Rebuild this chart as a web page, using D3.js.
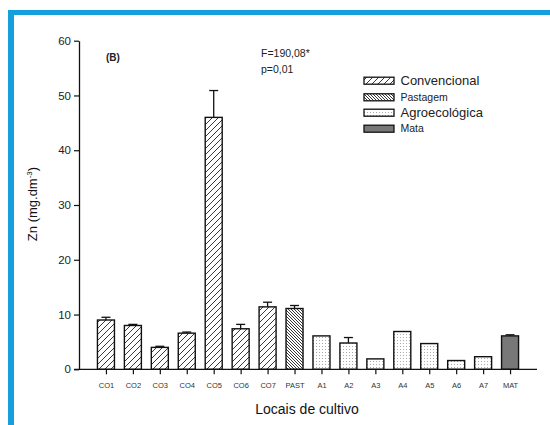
<!DOCTYPE html>
<html><head><meta charset="utf-8">
<script src="https://cdn.jsdelivr.net/npm/d3@7"></script>
<style>body{margin:0;background:#fff}svg{display:block}</style>
</head><body>
<svg id="c" width="550" height="425"></svg>
<script>
const categories = ["CO1","CO2","CO3","CO4","CO5","CO6","CO7","PAST","A1","A2","A3","A4","A5","A6","A7","MAT"];
const groups = ["conv","conv","conv","conv","conv","conv","conv","past","agro","agro","agro","agro","agro","agro","agro","mata"];
const values = [9.0,8.0,4.0,6.6,46.0,7.4,11.4,11.1,6.1,4.8,1.9,6.9,4.7,1.6,2.3,6.1];
const errors = [0.5,0.2,0.2,0.2,4.9,0.8,0.85,0.55,0,1.0,0,0,0,0,0,0.2];
const yTicks = [0,10,20,30,40,50,60];
const legendLabels = ["Convencional","Pastagem","Agroecológica","Mata"];
const legendKeys = ["conv","past","agro","mata"];

const svg = d3.select("#c");
const defs = svg.append("defs");
// patterns
const p1 = defs.append("pattern").attr("id","conv").attr("patternUnits","userSpaceOnUse").attr("width",6).attr("height",6);
p1.append("rect").attr("width",6).attr("height",6).attr("fill","#fff");
p1.append("path").attr("d","M0,6L6,0M-1.5,1.5L1.5,-1.5M4.5,7.5L7.5,4.5").attr("stroke","#222").attr("stroke-width",0.9);
const p2 = defs.append("pattern").attr("id","past").attr("patternUnits","userSpaceOnUse").attr("width",3).attr("height",3);
p2.append("rect").attr("width",3).attr("height",3).attr("fill","#fff");
p2.append("path").attr("d","M0,0L3,3M-1,2L1,4M2,-1L4,1").attr("stroke","#222").attr("stroke-width",0.9);
const p3 = defs.append("pattern").attr("id","agro").attr("patternUnits","userSpaceOnUse").attr("width",3).attr("height",3);
p3.append("rect").attr("width",3).attr("height",3).attr("fill","#fff");
p3.append("rect").attr("x",1).attr("y",1).attr("width",1).attr("height",1).attr("fill","#aaa");
const fills = {conv:"url(#conv)",past:"url(#past)",agro:"url(#agro)",mata:"#787878"};

// blue frame
svg.append("rect").attr("x",8).attr("y",10).attr("width",542).attr("height",5).attr("fill","#159fdb");
svg.append("rect").attr("x",8).attr("y",10).attr("width",6).attr("height",415).attr("fill","#159fdb");

const x0 = 79, x1 = 537, yTop = 40.7, yBot = 369.3;
const x = d3.scalePoint().domain(categories).range([x0,x1]).padding(1);
const y = d3.scaleLinear().domain([0,60]).range([yBot,yTop]);
const bw = 17;

const bars = svg.append("g");
categories.forEach((c,i)=>{
  const cx = x(c);
  if (errors[i] > 0) {
    bars.append("line").attr("x1",cx).attr("x2",cx).attr("y1",y(values[i])).attr("y2",y(values[i]+errors[i])).attr("stroke","#111").attr("stroke-width",1.3);
    bars.append("line").attr("x1",cx-4.5).attr("x2",cx+4.5).attr("y1",y(values[i]+errors[i])).attr("y2",y(values[i]+errors[i])).attr("stroke","#111").attr("stroke-width",1.3);
  }
  bars.append("rect").attr("x",cx-bw/2).attr("y",y(values[i])).attr("width",bw).attr("height",y(0)-y(values[i]))
    .attr("fill",fills[groups[i]]).attr("stroke","#111").attr("stroke-width",1.4);
});

// axes
const yAxis = svg.append("g").attr("transform",`translate(${x0},0)`)
  .call(d3.axisLeft(y).tickValues(yTicks).tickSize(5).tickPadding(3).tickSizeOuter(0));
yAxis.select(".domain").attr("stroke","#111").attr("stroke-width",1.3);
yAxis.selectAll(".tick line").attr("stroke","#111").attr("stroke-width",1.2);
yAxis.selectAll("text").attr("font-family","Liberation Sans, Arial, sans-serif").attr("font-size",11.5).attr("fill","#222");

const xAxis = svg.append("g").attr("transform",`translate(0,${yBot})`)
  .call(d3.axisBottom(x).tickSize(5).tickPadding(8).tickSizeOuter(0));
xAxis.select(".domain").attr("d",`M${x0-5},0H${x1}`).attr("stroke","#111").attr("stroke-width",1.3);
xAxis.selectAll(".tick line").attr("stroke","#111").attr("stroke-width",1.2);
xAxis.selectAll("text").attr("font-family","Liberation Sans, Arial, sans-serif").attr("font-size",7.5).attr("fill","#333");

// titles
svg.append("text").attr("x",307).attr("y",414).attr("text-anchor","middle")
  .attr("font-family","Liberation Sans, Arial, sans-serif").attr("font-size",14).attr("fill","#111").text("Locais de cultivo");
const yt = svg.append("text").attr("transform","translate(37,204) rotate(-90)").attr("text-anchor","middle")
  .attr("font-family","Liberation Sans, Arial, sans-serif").attr("font-size",13).attr("fill","#111");
yt.append("tspan").text("Zn (mg.dm");
yt.append("tspan").attr("dy",-5).attr("font-size",8).text("-3");
yt.append("tspan").attr("dy",5).text(")");

svg.append("text").attr("x",106).attr("y",61).attr("font-family","Liberation Sans, Arial, sans-serif").attr("font-weight","bold")
  .attr("font-size",10).attr("fill","#222").text("(B)");
svg.append("text").attr("x",261).attr("y",57).attr("font-family","Liberation Sans, Arial, sans-serif")
  .attr("font-size",10.5).attr("fill","#222").text("F=190,08*");
svg.append("text").attr("x",261).attr("y",73).attr("font-family","Liberation Sans, Arial, sans-serif")
  .attr("font-size",10.5).attr("fill","#222").text("p=0,01");

// legend
const legY = [80.7,97.3,112.7,128.7];
const legSize = [13,10.5,13,10.5];
legendKeys.forEach((k,i)=>{
  svg.append("rect").attr("x",364).attr("y",legY[i]-3.5).attr("width",30).attr("height",7)
    .attr("fill",fills[k]).attr("stroke","#111").attr("stroke-width",1.3);
  svg.append("text").attr("x",400.5).attr("y",legY[i]).attr("dy","0.35em")
    .attr("font-family","Liberation Sans, Arial, sans-serif").attr("font-size",legSize[i]).attr("fill","#222").text(legendLabels[i]);
});
</script>
</body></html>
